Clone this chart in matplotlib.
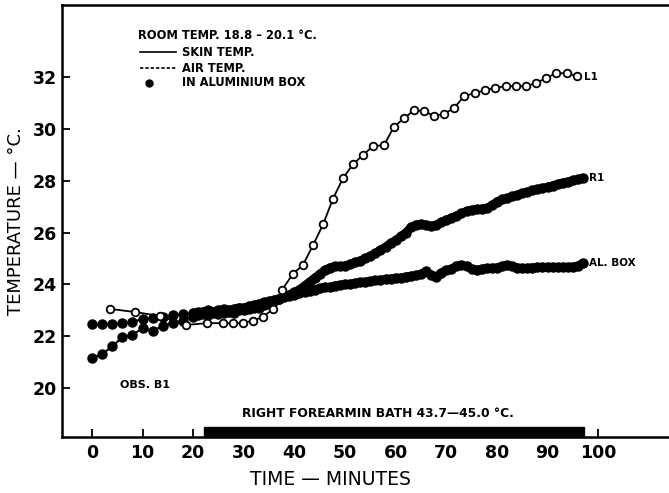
import matplotlib
matplotlib.use("Agg")
import matplotlib.pyplot as plt
from matplotlib.patches import Rectangle
import matplotlib.transforms as mtransforms

plt.rcParams['font.family'] = ['DejaVu Sans']
plt.rcParams['font.weight'] = 'bold'

# skin temp, left arm (open circles)
l1_t = [3.6, 8.5, 13.4, 18.6, 22.7, 25.9, 27.9, 29.8, 31.8, 33.8, 35.8, 37.6, 39.7,
        41.7, 43.7, 45.7, 47.6, 49.6, 51.6, 53.6, 55.5, 57.7, 59.7, 61.7, 63.6, 65.6,
        67.6, 69.6, 71.5, 73.5, 75.7, 77.7, 79.6, 81.8, 83.8, 85.8, 87.7, 89.7, 91.7,
        93.9, 95.8]
l1_temp = [23.05, 22.93, 22.78, 22.43, 22.5, 22.5, 22.5, 22.5, 22.6, 22.74, 23.05, 23.8,
           24.4, 24.75, 25.52, 26.33, 27.3, 28.1, 28.65, 29.0, 29.34, 29.38, 30.1, 30.42,
           30.73, 30.7, 30.5, 30.6, 30.8, 31.27, 31.4, 31.5, 31.6, 31.66, 31.66, 31.66,
           31.78, 31.97, 32.16, 32.16, 32.05]

# skin temp, right arm (filled dots)
r1_t = [0, 2, 4, 6, 8, 10, 12, 14, 16, 18, 20, 21, 22, 23, 24, 25, 26, 27, 28, 29,
        30, 31, 32, 33, 34, 35, 36, 37, 38, 39, 40, 41, 42, 43, 44, 45, 46, 47, 48, 49,
        50, 51, 52, 53, 54, 55, 56, 57, 58, 59, 60, 61, 62, 63, 64, 65, 66, 67, 68, 69,
        70, 71, 72, 73, 74, 75, 76, 77, 78, 79, 80, 81, 82, 83, 84, 85, 86, 87, 88, 89,
        90, 91, 92, 93, 94, 95, 96, 97]
r1_temp = [21.15, 21.3, 21.6, 21.95, 22.05, 22.3, 22.2, 22.4, 22.5, 22.6, 22.75, 22.8,
           22.85, 22.8, 22.9, 22.85, 22.9, 22.95, 22.9, 23.0, 23.0, 23.05, 23.1, 23.1,
           23.2, 23.25, 23.35, 23.45, 23.55, 23.6, 23.7, 23.8, 23.95, 24.1, 24.25, 24.4,
           24.55, 24.65, 24.7, 24.7, 24.72, 24.78, 24.85, 24.92, 25.0, 25.1, 25.2, 25.33,
           25.45, 25.6, 25.7, 25.85, 26.0, 26.2, 26.3, 26.33, 26.3, 26.25, 26.3, 26.4,
           26.5, 26.56, 26.65, 26.75, 26.83, 26.88, 26.9, 26.92, 26.95, 27.05, 27.2, 27.28,
           27.33, 27.4, 27.45, 27.52, 27.58, 27.63, 27.68, 27.72, 27.76, 27.82, 27.88,
           27.93, 27.97, 28.02, 28.06, 28.12]

# aluminium box (filled dots)
box_t = r1_t
box_temp = [22.47, 22.47, 22.47, 22.5, 22.55, 22.66, 22.7, 22.75, 22.8, 22.85, 22.9,
            22.92, 22.95, 23.0, 22.95, 23.0, 23.05, 23.0, 23.05, 23.1, 23.1, 23.15, 23.2,
            23.25, 23.3, 23.35, 23.4, 23.45, 23.5, 23.55, 23.6, 23.65, 23.7, 23.75, 23.8,
            23.85, 23.88, 23.9, 23.95, 23.98, 24.0, 24.02, 24.05, 24.08, 24.1, 24.12,
            24.15, 24.17, 24.2, 24.22, 24.25, 24.25, 24.3, 24.32, 24.35, 24.4, 24.5, 24.35,
            24.3, 24.45, 24.55, 24.6, 24.7, 24.75, 24.7, 24.6, 24.55, 24.6, 24.62, 24.63,
            24.65, 24.7, 24.75, 24.7, 24.65, 24.62, 24.63, 24.65, 24.66, 24.67, 24.67,
            24.67, 24.66, 24.67, 24.67, 24.68, 24.72, 24.82]

bath_start, bath_end = 22.2, 97.3
x_ticks = [0, 10, 20, 30, 40, 50, 60, 70, 80, 90, 100]
y_ticks = [20, 22, 24, 26, 28, 30, 32]

fig = plt.figure(figsize=(6.69, 4.93), dpi=100)
ax = fig.add_axes([0.0927, 0.1136, 0.9073, 0.8764])

dense = 10  # index from which readings are taken every minute
for t, v in [(box_t, box_temp), (r1_t, r1_temp)]:
    ax.plot(t, v, '-o', color='black', lw=1.5, ms=6.5, zorder=2)
    ax.plot(t[dense:], v[dense:], '-', color='black', lw=6, zorder=2,
            solid_capstyle='round')
ax.plot(l1_t, l1_temp, '-o', color='black', lw=1.3, ms=5.5,
        mfc='white', mec='black', mew=1.3, zorder=3)

ax.text(97.2, 32.0, 'L1', fontsize=7.5, va='center')
ax.text(98.2, 28.1, 'R1', fontsize=7.5, va='center')
ax.text(98.2, 24.83, 'AL. BOX', fontsize=7.5, va='center')

# bath bar along the time axis
trans = mtransforms.blended_transform_factory(ax.transData, ax.transAxes)
ax.add_patch(Rectangle((bath_start, 0), bath_end - bath_start, 0.024,
                       transform=trans, color='black', zorder=4, clip_on=False))
ax.text(56.6, 0.055, 'RIGHT FOREARMIN BATH 43.7\u201445.0 \u00b0C.', transform=trans,
        ha='center', va='center', fontsize=8.8)

ax.set_xlim(-5.9, 114)
ax.set_ylim(18.1, 34.8)
ax.set_xticks(x_ticks)
ax.set_yticks(y_ticks)
ax.tick_params(direction='in', length=6, width=1.3, labelsize=12.5)
ax.tick_params(axis='x', pad=5)
ax.spines['right'].set_visible(False)
for s in ['left', 'top', 'bottom']:
    ax.spines[s].set_linewidth(1.8)

ax.set_xlabel('TIME \u2014 MINUTES', fontsize=13.5, labelpad=6, x=0.4415)
ax.set_ylabel('TEMPERATURE \u2014 \u00b0C.', fontsize=13, labelpad=6)

# key
ax.text(9.1, 33.63, 'ROOM TEMP. 18.8 \u2013 20.1 \u00b0C.', fontsize=8.3, va='center')
ax.plot([9.5, 16.6], [32.97, 32.97], color='black', lw=1.2)
ax.text(17.8, 32.97, 'SKIN TEMP.', fontsize=8.3, va='center')
ax.plot([9.5, 16.6], [32.36, 32.36], color='black', lw=1.2, ls=(0, (2, 1.2)))
ax.text(17.8, 32.36, 'AIR TEMP.', fontsize=8.3, va='center')
ax.plot([11.3], [31.8], 'o', color='black', ms=5)
ax.text(17.8, 31.8, 'IN ALUMINIUM BOX', fontsize=8.3, va='center')

ax.text(5.5, 20.1, 'OBS. B1', fontsize=8, va='center')

fig.savefig('out.png', dpi=100)
